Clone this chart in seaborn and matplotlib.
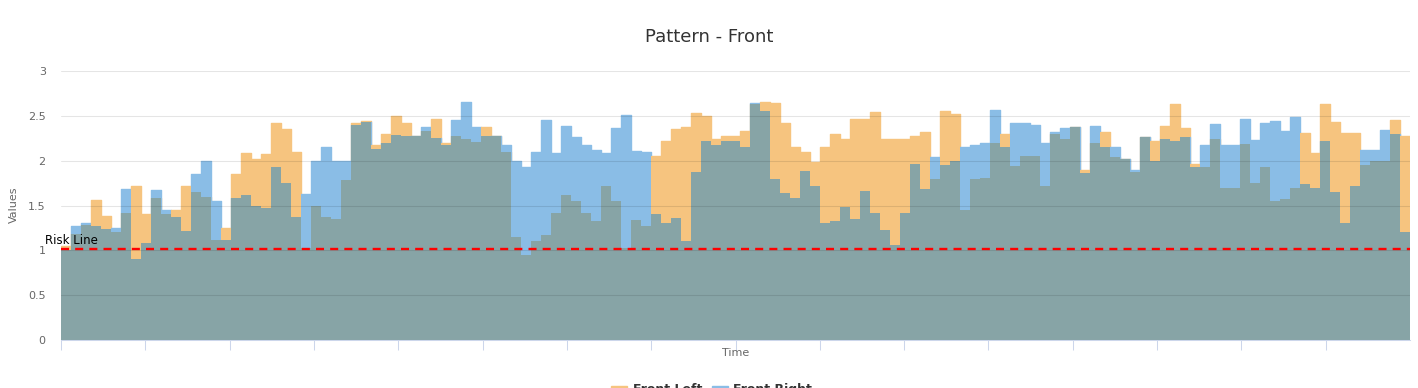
import matplotlib
matplotlib.use("Agg")
import matplotlib.pyplot as plt
from matplotlib.patches import Rectangle
import numpy as np
import pandas as pd
import seaborn as sns

# readings taken every ~10 px along the time axis, last point drops to 0
front_left = [1.05, 1.18, 1.28, 1.56, 1.38, 1.20, 1.42, 1.72, 1.40, 1.58,
              1.41, 1.45, 1.72, 1.65, 1.60, 1.12, 1.25, 1.85, 2.08, 2.02,
              2.07, 2.42, 2.35, 2.10, 1.03, 1.50, 1.37, 1.35, 1.78, 2.42,
              2.44, 2.18, 2.30, 2.50, 2.42, 2.27, 2.33, 2.46, 2.20, 2.28,
              2.24, 2.21, 2.38, 2.27, 2.10, 1.15, 0.95, 1.10, 1.17, 1.42,
              1.62, 1.55, 1.42, 1.33, 1.72, 1.55, 1.03, 1.34, 1.27, 2.05,
              2.22, 2.35, 2.38, 2.53, 2.50, 2.24, 2.28, 2.27, 2.33, 2.63,
              2.65, 2.64, 2.42, 2.15, 2.10, 1.99, 2.15, 2.30, 2.24, 2.47,
              2.47, 2.54, 2.24, 2.24, 2.24, 2.28, 2.32, 1.79, 2.55, 2.52,
              1.45, 1.79, 1.81, 2.20, 2.30, 1.94, 2.05, 2.05, 1.72, 2.30,
              2.24, 2.38, 1.90, 2.20, 2.32, 2.04, 2.02, 1.87, 2.26, 2.22,
              2.39, 2.63, 2.36, 1.96, 1.93, 2.24, 1.70, 1.70, 2.19, 1.75,
              1.93, 1.55, 1.57, 1.70, 2.31, 2.09, 2.63, 2.43, 2.31, 2.31,
              1.95, 2.00, 2.00, 2.45, 2.28, 0.0]
front_right = [1.00, 1.27, 1.30, 1.27, 1.24, 1.25, 1.68, 0.90, 1.08, 1.67,
               1.45, 1.37, 1.22, 1.85, 2.00, 1.55, 1.12, 1.58, 1.62, 1.50,
               1.47, 1.93, 1.75, 1.37, 1.63, 2.00, 2.15, 2.00, 2.00, 2.40,
               2.43, 2.13, 2.20, 2.29, 2.28, 2.28, 2.37, 2.25, 2.18, 2.45,
               2.65, 2.37, 2.28, 2.27, 2.18, 2.00, 1.93, 2.10, 2.45, 2.09,
               2.39, 2.26, 2.17, 2.12, 2.09, 2.36, 2.51, 2.11, 2.10, 1.40,
               1.30, 1.36, 1.10, 1.87, 2.22, 2.18, 2.22, 2.22, 2.15, 2.64,
               2.55, 1.80, 1.64, 1.58, 1.89, 1.72, 1.31, 1.33, 1.48, 1.35,
               1.66, 1.42, 1.23, 1.06, 1.42, 1.96, 1.68, 2.04, 1.95, 2.00,
               2.15, 2.18, 2.20, 2.56, 2.15, 2.42, 2.42, 2.40, 2.20, 2.32,
               2.36, 2.38, 1.86, 2.39, 2.15, 2.15, 2.02, 1.90, 2.26, 2.00,
               2.24, 2.22, 2.26, 1.93, 2.17, 2.41, 2.17, 2.17, 2.46, 2.23,
               2.42, 2.44, 2.33, 2.49, 1.74, 1.70, 2.22, 1.65, 1.31, 1.72,
               2.12, 2.12, 2.34, 2.30, 1.20, 0.0]
risk_level = 1.02
y_ticks = [0, 0.5, 1, 1.5, 2, 2.5, 3]
y_tick_labels = ["0", "0.5", "1", "1.5", "2", "2.5", "3"]

orange = "#f6c47f"
blue = "#8abde6"
overlap = "#87a4a6"

sns.set_theme(style="white")
plt.rcParams['font.family'] = ['DejaVu Sans']

df = pd.DataFrame({"time": np.arange(len(front_left)),
                   "Front Left": front_left,
                   "Front Right": front_right})
df["both"] = df[["Front Left", "Front Right"]].min(axis=1)

W, H = 1418, 388
fig = plt.figure(figsize=(W / 100, H / 100), dpi=100)
ax = fig.add_axes([61 / W, 48 / H, 1349 / W, 269 / H])

sns.lineplot(data=df, x="time", y="Front Left", drawstyle="steps-post",
             color=orange, lw=1, ax=ax, zorder=1)
sns.lineplot(data=df, x="time", y="Front Right", drawstyle="steps-post",
             color=blue, lw=1, ax=ax, zorder=1)
ax.fill_between(df["time"], df["Front Left"], step="post", color=orange, lw=0, zorder=2)
ax.fill_between(df["time"], df["Front Right"], step="post", color=blue, lw=0, zorder=2)
ax.fill_between(df["time"], df["both"], step="post", color=overlap, lw=0, zorder=2)

for y in y_ticks[1:]:
    ax.axhline(y, color="black", alpha=0.1, lw=0.75, zorder=3)
ax.axhline(risk_level, color="red", lw=1.7, ls=(0, (3.4, 2.6)), zorder=4)

n = len(df) - 1
ax.set_xlim(0, n)
ax.set_ylim(0, 3)
ax.set_xticks(np.linspace(0, n, 17)[:-1])
ax.set_xticklabels([])
ax.set_yticks(y_ticks)
ax.set_yticklabels(y_tick_labels)
ax.tick_params(axis="x", bottom=True, length=7.2, width=0.75, color="#ccd6eb",
               direction="out")
ax.tick_params(axis="y", left=False, length=0, pad=11, labelsize=8,
               labelcolor="#666666")
for side in ["top", "right", "left"]:
    ax.spines[side].set_visible(False)
ax.spines["bottom"].set_color("#ccd6eb")
ax.spines["bottom"].set_linewidth(0.75)
ax.spines["bottom"].set_zorder(5)
ax.set_xlabel("")
ax.set_ylabel("")

fig.text(0.5, 1 - 37 / H, "Pattern - Front", ha="center", va="center",
         fontsize=13, color="#333333")
fig.text(14 / W, 1 - 205 / H, "Values", rotation=90, ha="center", va="center",
         fontsize=8, color="#666666")
fig.text(736 / W, 1 - 353 / H, "Time", ha="center", va="center",
         fontsize=8, color="#666666")
fig.text(45 / W, 1 - 244 / H, "Risk Line", ha="left", va="baseline",
         fontsize=8.5, color="black")

# legend sits mostly below the bottom edge, as in the reference
fig.patches.append(Rectangle((611 / W, 1 - 398 / H), 16 / W, 12 / H,
                             transform=fig.transFigure, color=orange))
fig.patches.append(Rectangle((712 / W, 1 - 398 / H), 16 / W, 12 / H,
                             transform=fig.transFigure, color=blue))
fig.text(633 / W, 1 - 393 / H, "Front Left", ha="left", va="baseline",
         fontsize=9, fontweight="bold", color="#333333")
fig.text(733 / W, 1 - 393 / H, "Front Right", ha="left", va="baseline",
         fontsize=9, fontweight="bold", color="#333333")

fig.savefig("out.png", dpi=100)
